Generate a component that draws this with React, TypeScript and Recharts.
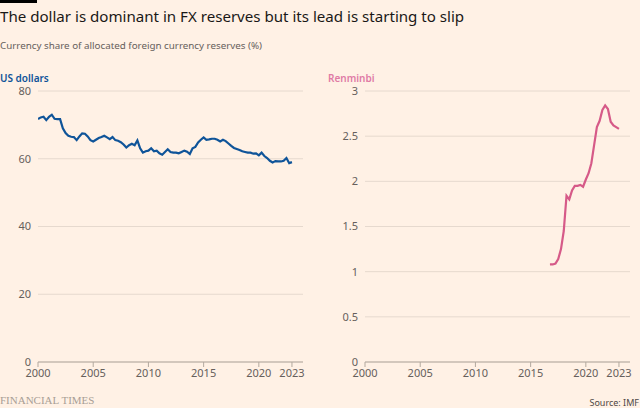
import { LineChart, Line, XAxis, YAxis, CartesianGrid } from "recharts";

// quarterly shares, first point is Q1 of the start year
const usdStart = 2000;
const usdShare = [
  71.7, 72.2, 72.4, 71.4,
  72.4, 73.0, 71.8, 71.7,
  71.7, 69.0, 67.6, 66.8,
  66.5, 66.4, 65.5, 66.6,
  67.5, 67.4, 66.6, 65.5,
  65.1, 65.6, 66.1, 66.4,
  66.8, 66.3, 65.8, 66.4,
  65.5, 65.3, 64.9, 64.2,
  63.3, 64.0, 64.4, 64.0,
  65.4, 63.1, 61.8, 62.2,
  62.4, 63.1, 62.2, 62.4,
  61.6, 61.2, 62.0, 62.8,
  62.0, 61.8, 61.8, 61.6,
  62.0, 62.4, 62.1, 61.4,
  63.1, 63.5, 64.8, 65.6,
  66.3, 65.6, 65.7, 65.9,
  65.9, 65.6, 65.1, 65.6,
  65.2, 64.5, 63.8, 63.2,
  62.9, 62.6, 62.2, 62.0,
  61.8, 61.8, 61.5, 61.6,
  61.0, 61.8, 60.8, 60.2,
  59.4, 58.9, 59.3, 59.2,
  59.2, 59.4, 60.2, 58.7,
  59.0,
];

// renminbi reporting starts in Q4 2016
const rmbStart = 2016.75;
const rmbShare = [
  1.08,
  1.08, 1.09, 1.14, 1.25,
  1.45, 1.84, 1.8, 1.9,
  1.95, 1.95, 1.96, 1.94,
  2.02, 2.09, 2.2, 2.4,
  2.6, 2.67, 2.79, 2.84,
  2.8, 2.66, 2.62, 2.6,
  2.58,
];

const xTicks = [2000, 2005, 2010, 2015, 2020, 2023];
const usdTicks = [0, 20, 40, 60, 80];
const rmbTicks = [0, 0.5, 1, 1.5, 2, 2.5, 3];

const FONT = "'Noto Sans', sans-serif";
const tickStyle = { fill: "#66605c", fontSize: 11, fontFamily: FONT };

const toRows = (start: number, values: number[]) =>
  values.map((v, i) => ({ t: start + i / 4, v }));

type PanelProps = {
  left: number;
  width: number;
  yWidth: number;
  data: { t: number; v: number }[];
  ticks: number[];
  color: string;
};

function Panel({ left, width, yWidth, data, ticks, color }: PanelProps) {
  return (
    <div style={{ position: "absolute", left, top: 0 }}>
      <LineChart
        width={width}
        height={392}
        data={data}
        margin={{ top: 91, right: width - yWidth - 265, left: 0, bottom: 0 }}
      >
        <CartesianGrid vertical={false} stroke="#e6d9ce" />
        <XAxis
          dataKey="t"
          type="number"
          domain={[2000, 2024]}
          ticks={xTicks}
          allowDataOverflow
          height={30}
          tickSize={5}
          stroke="#b3a99f"
          tick={tickStyle}
        />
        <YAxis
          type="number"
          domain={[0, ticks[ticks.length - 1]]}
          ticks={ticks}
          width={yWidth}
          axisLine={false}
          tickLine={false}
          tickSize={0}
          tickMargin={7}
          tick={tickStyle}
        />
        <Line
          type="linear"
          dataKey="v"
          stroke={color}
          strokeWidth={2.2}
          dot={false}
          isAnimationActive={false}
        />
      </LineChart>
    </div>
  );
}

export default function App() {
  return (
    <div
      style={{
        position: "absolute",
        left: 0,
        top: 0,
        width: 640,
        height: 408,
        background: "#fff1e5",
        overflow: "hidden",
        fontFamily: FONT,
      }}
    >
      <div style={{ position: "absolute", left: 0, top: 0, width: 37, height: 3, background: "#000" }} />
      <div style={{ position: "absolute", left: 0, top: 6, fontSize: 15.1, color: "#1a1817", whiteSpace: "nowrap" }}>
        The dollar is dominant in FX reserves but its lead is starting to slip
      </div>
      <div style={{ position: "absolute", left: 0, top: 39, fontSize: 9.8, color: "#66605c", whiteSpace: "nowrap" }}>
        Currency share of allocated foreign currency reserves (%)
      </div>
      <div style={{ position: "absolute", left: 0, top: 71, fontSize: 10, fontWeight: 600, color: "#0f5499" }}>
        US dollars
      </div>
      <div style={{ position: "absolute", left: 328, top: 71, fontSize: 10, fontWeight: 600, color: "#e07ba5" }}>
        Renminbi
      </div>

      <Panel left={0} width={310} yWidth={38} data={toRows(usdStart, usdShare)} ticks={usdTicks} color="#0f5499" />
      <Panel left={320} width={320} yWidth={45} data={toRows(rmbStart, rmbShare)} ticks={rmbTicks} color="#d65a88" />

      <div
        style={{
          position: "absolute",
          left: 0,
          top: 394,
          fontSize: 11,
          color: "#a89e95",
          fontFamily: "'Liberation Serif', serif",
          whiteSpace: "nowrap",
        }}
      >
        FINANCIAL TIMES
      </div>
      <div style={{ position: "absolute", right: 1, top: 396, fontSize: 9, color: "#4d4845" }}>
        Source: IMF
      </div>
    </div>
  );
}
